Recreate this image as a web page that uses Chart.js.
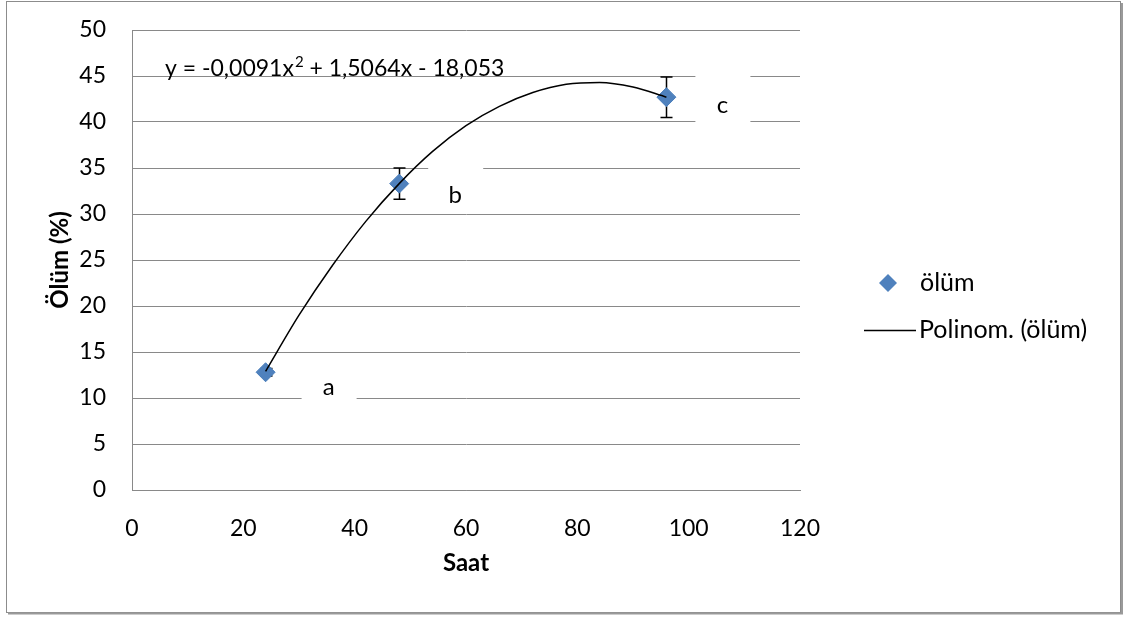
<!DOCTYPE html>
<html>
<head>
<meta charset="utf-8">
<script src="https://cdn.jsdelivr.net/npm/chart.js@4.4.1/dist/chart.umd.min.js"></script>
<style>
  html, body { margin: 0; padding: 0; background: #fff; }
  #wrap { width: 1125px; height: 617px; position: relative; }
</style>
</head>
<body>
<div id="wrap"><canvas id="chart"></canvas></div>
<script>
// data
const hours = [24, 48, 96];
const deaths = [12.8, 33.3, 42.7];
const deathErr = [0.4, 1.7, 2.2];
const groupLetters = ['a', 'b', 'c'];
const trendHours = [24, 30, 36, 42, 48, 54, 60, 66, 72, 78, 84, 90, 96];
const trendDeaths = [12.9, 19.0, 24.4, 29.2, 33.3, 36.8, 39.6, 41.7, 43.2, 44.1, 44.3, 43.8, 42.7];
const xTicks = [0, 20, 40, 60, 80, 100, 120];
const yTicks = [0, 5, 10, 15, 20, 25, 30, 35, 40, 45, 50];
const seriesName = 'ölüm';
const trendName = 'Polinom. (ölüm)';

const FONT = 'Lato, "Open Sans", sans-serif';
const gridGray = '#898989';
const blue = '#4F81BD';
const shift = [[63, 23], [56, 19], [56, 16]];   // letter offsets from the points, px

const decorations = {
    id: 'decorations',
    beforeDatasetsDraw(chart) {
        const { ctx, scales: { x, y } } = chart;
        ctx.save();
        // white boxes behind the letters (they hide the grid)
        ctx.fillStyle = '#fff';
        hours.forEach((h, i) => {
            const cx = x.getPixelForValue(h) + shift[i][0];
            const base = y.getPixelForValue(deaths[i]) + shift[i][1];
            ctx.fillRect(cx - 27, base - 39, 55, 50);
        });
        // error bars
        ctx.strokeStyle = '#000';
        ctx.lineWidth = 1.5;
        hours.forEach((h, i) => {
            const px = Math.round(x.getPixelForValue(h)) + 0.5;
            const top = y.getPixelForValue(deaths[i] + deathErr[i]);
            const bot = y.getPixelForValue(deaths[i] - deathErr[i]);
            ctx.beginPath();
            ctx.moveTo(px, top); ctx.lineTo(px, bot);
            ctx.moveTo(px - 6, top); ctx.lineTo(px + 6, top);
            ctx.moveTo(px - 6, bot); ctx.lineTo(px + 6, bot);
            ctx.stroke();
        });
        ctx.restore();
    },
    afterDraw(chart) {
        const { ctx, scales: { x, y } } = chart;
        ctx.save();
        ctx.fillStyle = '#000';
        ctx.font = '24px ' + FONT;
        ctx.textBaseline = 'alphabetic';
        ctx.textAlign = 'center';
        hours.forEach((h, i) => {
            ctx.fillText(groupLetters[i], x.getPixelForValue(h) + shift[i][0], y.getPixelForValue(deaths[i]) + shift[i][1]);
        });

        // trend equation
        ctx.textAlign = 'left';
        ctx.font = '23px ' + FONT;
        let tx = 165;
        const ty = 76;
        const p1 = 'y = -0,0091x';
        ctx.fillText(p1, tx, ty);
        tx += ctx.measureText(p1).width;
        ctx.font = '15px ' + FONT;
        ctx.fillText('2', tx + 1, ty - 9);
        tx += ctx.measureText('2').width + 1;
        ctx.font = '23px ' + FONT;
        ctx.fillText(' + 1,5064x - 18,053', tx, ty);

        // legend
        ctx.font = '25px ' + FONT;
        ctx.textBaseline = 'middle';
        ctx.fillStyle = blue;
        ctx.beginPath();
        ctx.moveTo(888, 274); ctx.lineTo(897, 283); ctx.lineTo(888, 292); ctx.lineTo(879, 283);
        ctx.closePath();
        ctx.fill();
        ctx.fillStyle = '#000';
        ctx.fillText(seriesName, 920, 283);
        ctx.strokeStyle = '#000';
        ctx.lineWidth = 1.5;
        ctx.beginPath();
        ctx.moveTo(864, 330.5); ctx.lineTo(916, 330.5);
        ctx.stroke();
        ctx.fillText(trendName, 919, 330);

        // outer frame with a little shadow
        ctx.strokeStyle = '#8c8c8c';
        ctx.lineWidth = 1;
        ctx.strokeRect(6.5, 1.5, 1114, 611);
        ctx.strokeStyle = '#9a9a9a';
        ctx.lineWidth = 2;
        ctx.beginPath();
        ctx.moveTo(8, 613.5); ctx.lineTo(1122, 613.5); ctx.lineTo(1122, 3);
        ctx.stroke();
        ctx.restore();
    }
};

new Chart(document.getElementById('chart'), {
    type: 'scatter',
    data: {
        datasets: [{
            label: trendName,
            data: trendHours.map((h, i) => ({ x: h, y: trendDeaths[i] })),
            showLine: true,
            borderColor: '#000',
            borderWidth: 1.5,
            pointRadius: 0,
            cubicInterpolationMode: 'monotone',
            order: 0
        }, {
            label: seriesName,
            data: hours.map((h, i) => ({ x: h, y: deaths[i] })),
            pointStyle: 'rectRot',
            pointRadius: 9.5,
            backgroundColor: blue,
            borderColor: '#4A7EBB',
            borderWidth: 1,
            order: 1
        }]
    },
    options: {
        responsive: true,
        maintainAspectRatio: false,
        animation: false,
        layout: { padding: { left: 6, right: 325, top: 30, bottom: 27 } },
        plugins: {
            legend: { display: false },
            tooltip: { enabled: false }
        },
        scales: {
            x: {
                type: 'linear',
                min: 0,
                max: 120,
                afterBuildTicks: s => { s.ticks = xTicks.map(v => ({ value: v })); },
                afterFit: s => { s.height = 100; },
                grid: { display: false, drawTicks: false },
                border: { display: true, color: gridGray, width: 1 },
                ticks: { color: '#000', padding: 25, maxRotation: 0, font: { family: FONT, size: 23 } },
                title: { display: true, text: 'Saat', color: '#000', padding: { top: 0, bottom: 12 }, font: { family: FONT, size: 24, weight: 'bold' } }
            },
            y: {
                min: 0,
                max: 50,
                afterBuildTicks: s => { s.ticks = yTicks.map(v => ({ value: v })); },
                afterFit: s => { s.width = 126; },
                grid: { color: gridGray, lineWidth: 1, drawTicks: true, tickLength: 20, tickColor: 'rgba(0,0,0,0)' },
                border: { display: true, color: gridGray, width: 1 },
                ticks: { color: '#000', padding: 6, font: { family: FONT, size: 23 } },
                title: { display: true, text: 'Ölüm (%)', color: '#000', padding: { top: 40, bottom: 0 }, font: { family: FONT, size: 24, weight: 'bold' } }
            }
        }
    },
    plugins: [decorations]
});
</script>
</body>
</html>
